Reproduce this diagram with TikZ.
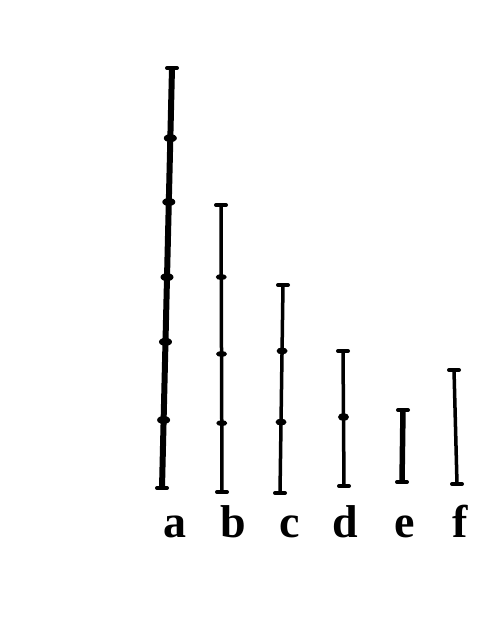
\documentclass[tikz,border=0pt]{standalone}
\usepackage{fontspec}
\setmainfont{Liberation Serif}
\usetikzlibrary{calc}
\tikzset{
  rod/.style={line width=3.5pt},
  endbar/.style={line width=4pt, line cap=round},
  knot/.style={fill=black},
  letter/.style={font=\fontsize{46}{46}\selectfont\bfseries, anchor=base},
}

\begin{document}
\begin{tikzpicture}[x=1pt,y=-1pt]
  \useasboundingbox (0,0) rectangle (494,634);

  % ends of the six rods
  \coordinate (aT) at (172,68);  \coordinate (aB) at (162,488);
  \coordinate (bT) at (221,205); \coordinate (bB) at (222,492);
  \coordinate (cT) at (283,285); \coordinate (cB) at (280,493);
  \coordinate (dT) at (343,351); \coordinate (dB) at (344,486);
  \coordinate (eT) at (403,410); \coordinate (eB) at (402,482);
  \coordinate (fT) at (454,370); \coordinate (fB) at (457,484);

  % the rods
  \draw[rod, line width=6pt] (aT) -- (aB);
  \draw[rod] (bT) -- (bB);
  \draw[rod] (cT) -- (cB);
  \draw[rod] (dT) -- (dB);
  \draw[rod, line width=5.5pt] (eT) -- (eB);
  \draw[rod] (fT) -- (fB);

  % short bars at the ends
  \foreach \p in {aT,aB,bT,bB,cT,cB,dT,dB,eT,eB,fT,fB}
    \draw[endbar] ($(\p)+(-5,0)$) -- ($(\p)+(5,0)$);

  % marks dividing the rods
  \foreach \t in {0.167,0.319,0.498,0.652,0.838}
    \fill[knot] ($(aT)!\t!(aB)$) ellipse (6.5 and 4);
  \foreach \t in {0.251,0.519,0.760}
    \fill[knot] ($(bT)!\t!(bB)$) ellipse (5.5 and 3);
  \foreach \t in {0.317,0.659}
    \fill[knot] ($(cT)!\t!(cB)$) ellipse (5.5 and 3.5);
  \fill[knot] ($(dT)!0.489!(dB)$) ellipse (5.5 and 4);

  % letters
  \node[letter] (la) at (175,537) {a};
  \node[letter] (lb) at (233,537) {b};
  \node[letter] (lc) at (290,537) {c};
  \node[letter] (ld) at (345,537) {d};
  \node[letter] (le) at (405,537) {e};
  \node[letter] (lf) at (460,537) {f};
\end{tikzpicture}
\end{document}
